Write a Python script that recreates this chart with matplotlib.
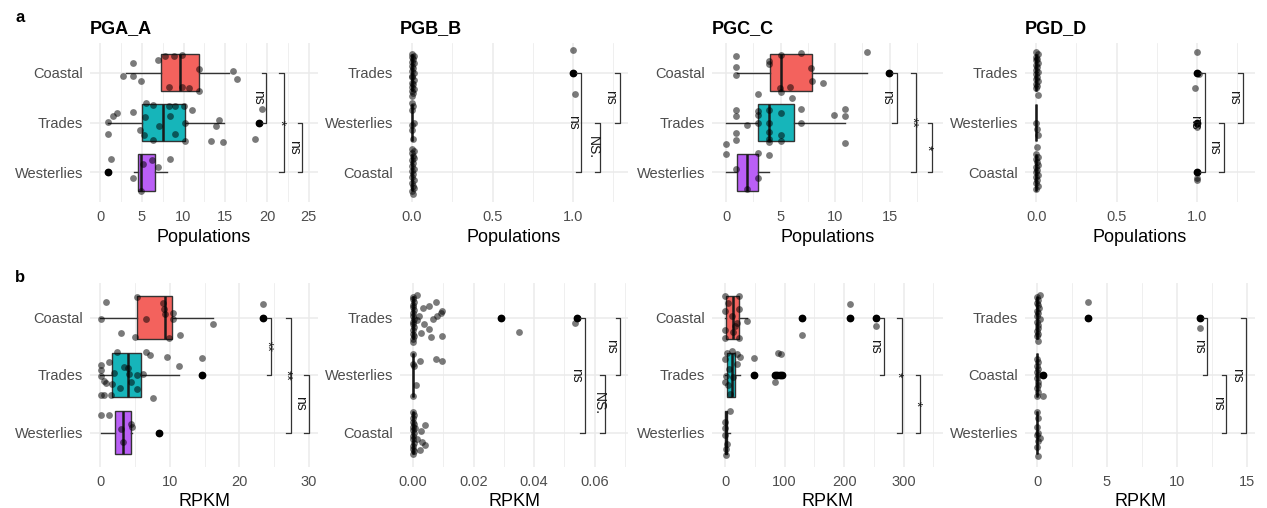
import matplotlib
matplotlib.use("Agg")
import matplotlib.pyplot as plt

plt.rcParams['font.family'] = ['Liberation Sans', 'DejaVu Sans']

# colours per region
fill = {'Coastal': '#F3625D', 'Trades': '#16B5BA', 'Westerlies': '#BA5FF6'}

# ---------------- a: PGA_A (Populations) ----------------
pga_pop_cats = ['Coastal', 'Trades', 'Westerlies']
pga_pop_whislo = [3.1, 0.9, 4.1]
pga_pop_q1 = [7.3, 5.05, 4.6]
pga_pop_med = [9.55, 7.5, 4.9]
pga_pop_q3 = [11.8, 10.2, 6.6]
pga_pop_whishi = [15.4, 14.9, 8.0]
pga_pop_fliers = [[], [19.0], [1.0]]
pga_pop_x = [
    [3.9, 2.8, 4.0, 4.9, 7.0, 7.8, 8.8, 9.8, 8.2, 9.8, 10.7, 11.8, 11.9, 15.9, 16.4],
    [0.9, 1.0, 1.5, 2.0, 4.0, 4.8, 5.3, 5.5, 5.4, 6.4, 6.4, 7.1, 8.2, 9.0, 8.4, 9.0,
     10.1, 10.2, 10.2, 11.0, 14.2, 13.9, 13.3, 14.7, 19.4, 19.0, 18.6],
    [1.3, 1.0, 4.0, 4.9, 5.2, 6.25, 7.0, 8.4],
]
pga_pop_dy = [
    [0.2, -0.07, -0.07, -0.17, 0.26, 0.34, 0.33, 0.36, -0.29, -0.29, -0.31, 0.08, -0.36, 0.03, -0.12],
    [0.02, -0.23, 0.13, 0.2, 0.22, -0.15, -0.25, 0.39, 0.12, 0.35, -0.35, -0.07, 0.34, 0.33, 0.13, -0.24,
     0.33, 0.0, -0.37, 0.26, 0.05, -0.08, -0.37, -0.4, 0.27, 0.0, -0.33],
    [0.26, 0.0, -0.12, -0.37, 0.16, 0.25, 0.1, 0.27],
]
pga_pop_pairs = [(0, 1), (0, 2), (1, 2)]
pga_pop_sig_x = [19.9, 22.0, 24.2]
pga_pop_sig_lab = ['ns', '*', 'ns']
pga_pop_sig_lab_x = [18.9, 21.5, 23.2]

# ---------------- a: PGB_B (Populations) ----------------
pgb_pop_cats = ['Trades', 'Westerlies', 'Coastal']
pgb_pop_whislo = [0, 0, 0]
pgb_pop_q1 = [0, 0, 0]
pgb_pop_med = [0, 0, 0]
pgb_pop_q3 = [0, 0, 0]
pgb_pop_whishi = [0, 0, 0]
pgb_pop_fliers = [[1.0], [], []]
pgb_pop_x = [
    [0, 0.01, 0, 0.005, 0, 0.01, 0, 0.005, 0, 0.01, 0, 0, 0.01, 0, 0.005, 0, 0.01, 0, 0.005, 0,
     1.0, 1.0, 1.01],
    [0, 0.005, 0, 0.01, 0, 0.005, 0],
    [0, 0.01, 0, 0.005, 0.01, 0, 0.005, 0, 0.01, 0, 0.005, 0, 0.01, 0, 0.005, 0.01, 0, 0.005],
]
pgb_pop_dy = [
    [0.38, 0.34, 0.31, 0.27, 0.22, 0.19, 0.13, 0.1, 0.04, 0.0, -0.06, -0.09, -0.15, -0.2, -0.23,
     -0.29, -0.33, -0.36, -0.41, -0.47, 0.46, 0.0, -0.42],
    [0.39, 0.33, 0.26, 0.0, -0.16, -0.33, -0.06],
    [0.47, 0.43, 0.38, 0.33, 0.29, 0.24, 0.18, 0.12, 0.07, 0.02, -0.04, -0.1, -0.15, -0.21, -0.27,
     -0.32, -0.38, -0.44],
]
pgb_pop_pairs = [(0, 2), (1, 2), (0, 1)]
pgb_pop_sig_x = [1.046, 1.166, 1.29]
pgb_pop_sig_lab = ['ns', 'NS.', 'ns']
pgb_pop_sig_lab_x = [1.0, 1.12, 1.23]

# ---------------- a: PGC_C (Populations) ----------------
pgc_pop_cats = ['Coastal', 'Trades', 'Westerlies']
pgc_pop_whislo = [1.0, 0.0, 0.0]
pgc_pop_q1 = [4.0, 2.9, 0.95]
pgc_pop_med = [5.0, 3.9, 1.9]
pgc_pop_q3 = [7.9, 6.2, 2.9]
pgc_pop_whishi = [12.9, 10.9, 3.9]
pgc_pop_fliers = [[14.9], [], []]
pgc_pop_x = [
    [0.9, 0.9, 0.9, 3.9, 3.9, 5.0, 6.9, 7.8, 7.9, 8.9, 4.9, 5.9, 5.0, 12.9, 14.9, 2.9],
    [0.9, 0.9, 0.9, 0.9, 1.9, 2.9, 2.9, 2.9, 3.9, 3.9, 3.9, 3.9, 3.9, 5.0, 5.0, 5.0,
     6.0, 6.9, 6.9, 9.9, 10.9, 10.9, 10.9, 0.0],
    [0.0, 2.9, 0.9, 2.9, 1.9, 3.9],
]
pgc_pop_dy = [
    [0.34, 0.11, -0.05, 0.24, 0.18, 0.36, 0.4, 0.09, -0.17, -0.2, -0.3, -0.29, -0.38, 0.42, 0.0, -0.43],
    [0.26, 0.13, -0.22, -0.36, -0.05, 0.23, 0.15, -0.02, 0.26, 0.0, -0.2, -0.33, -0.4, 0.2, -0.26, -0.37,
     0.49, 0.27, 0.0, 0.15, 0.28, 0.13, -0.41, -0.44],
    [0.36, 0.39, 0.07, -0.12, -0.33, 0.34],
]
pgc_pop_pairs = [(0, 1), (0, 2), (1, 2)]
pgc_pop_sig_x = [15.67, 17.4, 18.9]
pgc_pop_sig_lab = ['ns', '**', '*']
pgc_pop_sig_lab_x = [14.75, 17.07, 18.4]

# ---------------- a: PGD_D (Populations) ----------------
pgd_pop_cats = ['Trades', 'Westerlies', 'Coastal']
pgd_pop_whislo = [0, 0, 0]
pgd_pop_q1 = [0, 0, 0]
pgd_pop_med = [0, 0, 0]
pgd_pop_q3 = [0, 0, 0]
pgd_pop_whishi = [0, 0, 0]
pgd_pop_fliers = [[1.0], [1.0], [1.0]]
pgd_pop_x = [
    [0, 0.01, 0, 0.005, 0, 0.01, 0, 0.005, 0, 0.01, 0, 0.005, 0, 0.01, 0, 0.005, 0, 0.01,
     1.0, 1.0, 1.01, 0.99],
    [0, 0.005, 0.01, 0.005, 1.0, 1.0],
    [0, 0.01, 0, 0.005, 0.01, 0, 0.005, 0, 0.01, 0, 0.005, 0, 0.01, 0, 1.0, 1.0, 1.0],
]
pgd_pop_dy = [
    [0.41, 0.37, 0.32, 0.28, 0.25, 0.2, 0.15, 0.11, 0.06, 0.02, -0.03, -0.08, -0.12, -0.17, -0.23,
     -0.27, -0.31, -0.45, 0.42, 0.0, -0.02, -0.3],
    [0.0, -0.13, -0.26, -0.49, -0.03, -0.1],
    [0.37, 0.31, 0.26, 0.21, 0.15, 0.1, 0.04, 0.0, -0.05, -0.1, -0.16, -0.21, -0.27, -0.33,
     0.0, -0.12, -0.15],
]
pgd_pop_pairs = [(0, 2), (1, 2), (0, 1)]
pgd_pop_sig_x = [1.047, 1.165, 1.285]
pgd_pop_sig_lab = ['ns', 'ns', 'ns']
pgd_pop_sig_lab_x = [0.985, 1.105, 1.23]

# ---------------- b: PGA_A (RPKM) ----------------
pga_rpkm_cats = ['Coastal', 'Trades', 'Westerlies']
pga_rpkm_whislo = [0.0, 0.0, 0.14]
pga_rpkm_q1 = [5.2, 1.6, 2.15]
pga_rpkm_med = [9.3, 4.0, 3.25]
pga_rpkm_q3 = [10.3, 5.9, 4.45]
pga_rpkm_whishi = [16.2, 11.3, 4.6]
pga_rpkm_fliers = [[23.4], [14.6], [8.4]]
pga_rpkm_x = [
    [0.86, 0.14, 5.2, 6.5, 2.9, 5.0, 9.0, 9.15, 9.3, 10.4, 10.4, 9.8, 11.4, 16.2, 23.4, 23.4],
    [0.14, 0.05, 0.14, 0.05, 0.5, 1.2, 0.5, 0.8, 1.6, 1.9, 2.4, 3.4, 4.0, 4.1, 2.8, 5.2, 6.1,
     4.4, 5.2, 6.5, 7.1, 9.6, 11.3, 14.6, 14.6, 7.6, 1.5],
    [0.14, 1.25, 4.45, 4.6, 3.0, 3.3, 8.4],
]
pga_rpkm_dy = [
    [0.27, -0.03, 0.35, -0.03, -0.27, -0.34, 0.26, 0.14, 0.06, 0.07, -0.03, -0.35, -0.31, -0.12, 0.23, 0.0],
    [0.18, 0.08, -0.01, -0.34, -0.34, 0.22, -0.1, -0.14, -0.16, 0.03, 0.4, 0.14, 0.13, 0.02, -0.23, 0.0,
     0.02, -0.13, -0.24, 0.4, 0.35, 0.31, 0.15, 0.29, 0.0, -0.4, -0.34],
    [0.31, 0.31, 0.14, 0.09, 0.06, -0.16, 0.0],
]
pga_rpkm_pairs = [(0, 1), (0, 2), (1, 2)]
pga_rpkm_sig_x = [24.6, 27.4, 30.0]
pga_rpkm_sig_lab = ['**', '**', 'ns']
pga_rpkm_sig_lab_x = [23.9, 26.7, 28.65]

# ---------------- b: PGB_B (RPKM) ----------------
pgb_rpkm_cats = ['Trades', 'Westerlies', 'Coastal']
pgb_rpkm_whislo = [0, 0, 0]
pgb_rpkm_q1 = [0, 0, 0]
pgb_rpkm_med = [0, 0, 0]
pgb_rpkm_q3 = [0, 0, 0]
pgb_rpkm_whishi = [0, 0, 0]
pgb_rpkm_fliers = [[0.029, 0.0542], [], []]
pgb_rpkm_x = [
    [0, 0, 0.0002, 0, 0, 0.0002, 0, 0, 0.0002, 0, 0, 0.0002, 0, 0, 0.0002, 0, 0,
     0.0013, 0.0033, 0.0052, 0.0075, 0.0096, 0.0091, 0.008, 0.0066, 0.002, 0.0013, 0.0035,
     0.0052, 0.0025, 0.0058, 0.0096, 0.029, 0.035, 0.0542, 0.0534],
    [0, 0, 0.0002, 0, 0.0022, 0.0077, 0.0097, 0.0009],
    [0, 0.0002, 0, 0, 0.0002, 0, 0, 0.0002, 0, 0, 0.0002, 0, 0, 0.0002, 0,
     0.0041, 0.0028, 0.003, 0.0041, 0.0022, 0.0008, 0.0012],
]
pgb_rpkm_dy = [
    [0.36, 0.32, 0.27, 0.22, 0.18, 0.13, 0.08, 0.03, -0.02, -0.07, -0.12, -0.17, -0.22, -0.28, -0.33,
     -0.38, -0.42,
     0.39, 0.16, 0.2, 0.27, 0.12, 0.08, 0.02, -0.02, 0.03, -0.05, -0.11, -0.2, -0.27, -0.34, -0.33,
     0.0, -0.25, 0.0, -0.1],
    [0.36, 0.2, 0.16, -0.36, 0.25, 0.28, 0.25, -0.17],
    [0.35, 0.3, 0.25, 0.19, 0.14, 0.09, 0.04, -0.01, -0.06, -0.12, -0.18, -0.23, -0.29, -0.33, -0.37,
     0.13, 0.03, -0.16, -0.21, -0.31, 0.07, -0.12],
]
pgb_rpkm_pairs = [(0, 2), (1, 2), (0, 1)]
pgb_rpkm_sig_x = [0.0567, 0.0633, 0.0685]
pgb_rpkm_sig_lab = ['ns', 'NS.', 'ns']
pgb_rpkm_sig_lab_x = [0.0537, 0.0614, 0.0655]

# ---------------- b: PGC_C (RPKM) ----------------
pgc_rpkm_cats = ['Coastal', 'Trades', 'Westerlies']
pgc_rpkm_whislo = [0, 0, 0]
pgc_rpkm_q1 = [2, 2.8, 0.5]
pgc_rpkm_med = [14, 11, 1.5]
pgc_rpkm_q3 = [24, 16.8, 3]
pgc_rpkm_whishi = [36, 25, 8]
pgc_rpkm_fliers = [[129, 209, 253.5], [48.7, 84, 88, 92, 96], []]
pgc_rpkm_x = [
    [0, 24, 0, 24, 0, 14, 24, 0, 36.4, 11, 16.8, 129, 209, 209, 253.5, 253.5, 129, 5, 20],
    [2.8, 11, 19.6, 25.2, 0, 1.7, 14, 0, 5.6, 8.4, 48.7, 48.7, 88.6, 93.7, 83, 84, 88, 92, 96, 6, 20],
    [8.4, 0, 0, 0, 1.7, 1.7, 4],
]
pgc_rpkm_dy = [
    [0.37, 0.37, 0.11, 0.14, -0.21, -0.26, -0.35, -0.36, -0.06, 0.02, -0.15, 0.0, 0.23, 0.0, 0.0,
     -0.14, -0.31, 0.25, -0.1],
    [0.39, 0.42, 0.36, 0.31, 0.28, -0.01, -0.04, -0.12, -0.18, -0.33, 0.29, 0.0, 0.38, 0.36, -0.12,
     0.0, 0.0, 0.0, 0.0, 0.1, 0.2],
    [0.38, 0.18, 0.07, -0.05, -0.28, -0.39, -0.2],
]
pgc_rpkm_pairs = [(0, 1), (0, 2), (1, 2)]
pgc_rpkm_sig_x = [267.5, 297, 328]
pgc_rpkm_sig_lab = ['ns', '*', '*']
pgc_rpkm_sig_lab_x = [252, 289, 320]

# ---------------- b: PGD_D (RPKM) ----------------
pgd_rpkm_cats = ['Trades', 'Coastal', 'Westerlies']
pgd_rpkm_whislo = [0, 0, 0]
pgd_rpkm_q1 = [0, 0, 0]
pgd_rpkm_med = [0, 0, 0]
pgd_rpkm_q3 = [0, 0, 0]
pgd_rpkm_whishi = [0, 0, 0]
pgd_rpkm_fliers = [[3.67, 11.64], [0.43], []]
pgd_rpkm_x = [
    [0.24, 0, 0.1, 0, 0.05, 0.15, 0, 0.1, 0, 0.2, 0, 0.05, 0.1, 0, 0.05, 0, 0.1,
     3.67, 3.67, 11.64, 11.64],
    [0, 0.1, 0, 0.05, 0, 0.1, 0, 0.05, 0.1, 0, 0.05, 0, 0.43, 0.43],
    [0, 0.05, 0, 0.1, 0, 0.05, 0, 0.1, 0.2],
]
pgd_rpkm_dy = [
    [0.39, 0.35, 0.3, 0.26, 0.22, 0.17, 0.12, 0.08, 0.02, -0.03, -0.08, -0.13, -0.18, -0.23, -0.28,
     -0.33, -0.4, 0.27, 0.0, 0.0, -0.18],
    [0.28, 0.22, 0.16, 0.1, 0.05, 0.0, -0.06, -0.12, -0.18, -0.23, -0.3, -0.36, 0.0, -0.36],
    [0.35, 0.25, 0.1, 0.0, -0.05, -0.15, -0.25, -0.4, -0.1],
]
pgd_rpkm_pairs = [(0, 1), (1, 2), (0, 2)]
pgd_rpkm_sig_x = [12.2, 13.56, 14.95]
pgd_rpkm_sig_lab = ['ns', 'ns', 'ns']
pgd_rpkm_sig_lab_x = [11.6, 12.96, 14.33]

titles = ['PGA_A', 'PGB_B', 'PGC_C', 'PGD_D']

# panel layout: (data..., xlim, major ticks, minor ticks, tick format)
row_a = [
    (pga_pop_cats, pga_pop_whislo, pga_pop_q1, pga_pop_med, pga_pop_q3, pga_pop_whishi, pga_pop_fliers,
     pga_pop_x, pga_pop_dy, pga_pop_pairs, pga_pop_sig_x, pga_pop_sig_lab, pga_pop_sig_lab_x,
     (-1.2, 26.1), [0, 5, 10, 15, 20, 25], [2.5, 7.5, 12.5, 17.5, 22.5], '{:g}'),
    (pgb_pop_cats, pgb_pop_whislo, pgb_pop_q1, pgb_pop_med, pgb_pop_q3, pgb_pop_whishi, pgb_pop_fliers,
     pgb_pop_x, pgb_pop_dy, pgb_pop_pairs, pgb_pop_sig_x, pgb_pop_sig_lab, pgb_pop_sig_lab_x,
     (-0.075, 1.34), [0, 0.5, 1.0], [0.25, 0.75, 1.25], '{:.1f}'),
    (pgc_pop_cats, pgc_pop_whislo, pgc_pop_q1, pgc_pop_med, pgc_pop_q3, pgc_pop_whishi, pgc_pop_fliers,
     pgc_pop_x, pgc_pop_dy, pgc_pop_pairs, pgc_pop_sig_x, pgc_pop_sig_lab, pgc_pop_sig_lab_x,
     (-1.3, 19.9), [0, 5, 10, 15], [2.5, 7.5, 12.5, 17.5], '{:g}'),
    (pgd_pop_cats, pgd_pop_whislo, pgd_pop_q1, pgd_pop_med, pgd_pop_q3, pgd_pop_whishi, pgd_pop_fliers,
     pgd_pop_x, pgd_pop_dy, pgd_pop_pairs, pgd_pop_sig_x, pgd_pop_sig_lab, pgd_pop_sig_lab_x,
     (-0.07, 1.36), [0, 0.5, 1.0], [0.25, 0.75, 1.25], '{:.1f}'),
]
row_b = [
    (pga_rpkm_cats, pga_rpkm_whislo, pga_rpkm_q1, pga_rpkm_med, pga_rpkm_q3, pga_rpkm_whishi, pga_rpkm_fliers,
     pga_rpkm_x, pga_rpkm_dy, pga_rpkm_pairs, pga_rpkm_sig_x, pga_rpkm_sig_lab, pga_rpkm_sig_lab_x,
     (-1.5, 31.3), [0, 10, 20, 30], [5, 15, 25], '{:g}'),
    (pgb_rpkm_cats, pgb_rpkm_whislo, pgb_rpkm_q1, pgb_rpkm_med, pgb_rpkm_q3, pgb_rpkm_whishi, pgb_rpkm_fliers,
     pgb_rpkm_x, pgb_rpkm_dy, pgb_rpkm_pairs, pgb_rpkm_sig_x, pgb_rpkm_sig_lab, pgb_rpkm_sig_lab_x,
     (-0.0043, 0.071), [0, 0.02, 0.04, 0.06], [0.01, 0.03, 0.05, 0.07], '{:.2f}'),
    (pgc_rpkm_cats, pgc_rpkm_whislo, pgc_rpkm_q1, pgc_rpkm_med, pgc_rpkm_q3, pgc_rpkm_whishi, pgc_rpkm_fliers,
     pgc_rpkm_x, pgc_rpkm_dy, pgc_rpkm_pairs, pgc_rpkm_sig_x, pgc_rpkm_sig_lab, pgc_rpkm_sig_lab_x,
     (-22, 366), [0, 100, 200, 300], [50, 150, 250, 350], '{:g}'),
    (pgd_rpkm_cats, pgd_rpkm_whislo, pgd_rpkm_q1, pgd_rpkm_med, pgd_rpkm_q3, pgd_rpkm_whishi, pgd_rpkm_fliers,
     pgd_rpkm_x, pgd_rpkm_dy, pgd_rpkm_pairs, pgd_rpkm_sig_x, pgd_rpkm_sig_lab, pgd_rpkm_sig_lab_x,
     (-0.86, 15.6), [0, 5, 10, 15], [2.5, 7.5, 12.5], '{:g}'),
]

W, H = 1267, 508
fig = plt.figure(figsize=(W / 100, H / 100), dpi=100)
cols_px = [(90, 318), (400, 628), (712, 943), (1025, 1255)]
rows_px = [(43, 202), (283, 467)]


def draw_panel(ax, p, xlabel, title, width_px):
    (cats, wlo, q1, med, q3, whi, fl, xs, dys, pairs, sx, slab, slabx,
     xlim, major, minor, fmt) = p
    ypos = [3, 2, 1]
    ax.set_xlim(*xlim)
    ax.set_ylim(0.4, 3.6)
    for s in ax.spines.values():
        s.set_visible(False)
    ax.set_xticks(major)
    ax.set_xticklabels([fmt.format(v) for v in major])
    ax.set_xticks(minor, minor=True)
    ax.set_yticks(ypos)
    ax.set_yticklabels(cats)
    ax.tick_params(axis='both', which='both', length=0, labelsize=10.5, labelcolor='#4D4D4D')
    ax.tick_params(axis='x', pad=6)
    ax.tick_params(axis='y', pad=5)
    ax.grid(True, which='major', color='#EBEBEB', linewidth=1.1, zorder=0)
    ax.grid(True, which='minor', axis='x', color='#EBEBEB', linewidth=0.55, zorder=0)
    ax.set_axisbelow(True)

    stats = []
    for i in range(3):
        stats.append(dict(whislo=wlo[i], q1=q1[i], med=med[i], q3=q3[i], whishi=whi[i], fliers=fl[i]))
    bp = ax.bxp(stats, positions=ypos, widths=0.75, orientation='horizontal', patch_artist=True,
                showcaps=False, manage_ticks=False,
                boxprops=dict(edgecolor='#333333', linewidth=1.0),
                whiskerprops=dict(color='#333333', linewidth=1.0),
                medianprops=dict(color='#1A1A1A', linewidth=1.8),
                flierprops=dict(marker='o', markerfacecolor='black', markeredgecolor='none',
                                markersize=5.6))
    for patch, c in zip(bp['boxes'], cats):
        patch.set_facecolor(fill[c])
        patch.set_zorder(2)

    for i in range(3):
        ax.scatter(xs[i], [ypos[i] + d for d in dys[i]], s=24, color='black', alpha=0.52,
                   linewidths=0, zorder=3)

    tip = (xlim[1] - xlim[0]) * 4.5 / width_px
    for (i, j), x0, lab, lx in zip(pairs, sx, slab, slabx):
        y1, y2 = ypos[i], ypos[j]
        ax.plot([x0 - tip, x0, x0, x0 - tip], [y1, y1, y2, y2], color='#333333',
                linewidth=0.9, zorder=4, clip_on=False)
        ax.text(lx, (y1 + y2) / 2, lab, rotation=270, ha='center', va='center',
                fontsize=10, color='#1A1A1A', zorder=5)

    ax.set_xlabel(xlabel, fontsize=13, labelpad=3)
    if title:
        ax.set_title(title, loc='left', fontsize=13, fontweight='bold', pad=7)


for r, (row, xlabel) in enumerate([(row_a, 'Populations'), (row_b, 'RPKM')]):
    top, bot = rows_px[r]
    for c, p in enumerate(row):
        l, rr = cols_px[c]
        ax = fig.add_axes([l / W, 1 - bot / H, (rr - l) / W, (bot - top) / H])
        draw_panel(ax, p, xlabel, titles[c] if r == 0 else None, rr - l)

fig.text(20 / W, 1 - 17 / H, 'a', fontsize=12, fontweight='bold', ha='center', va='center')
fig.text(20 / W, 1 - 278 / H, 'b', fontsize=12, fontweight='bold', ha='center', va='center')

fig.savefig('out.png', dpi=100)
